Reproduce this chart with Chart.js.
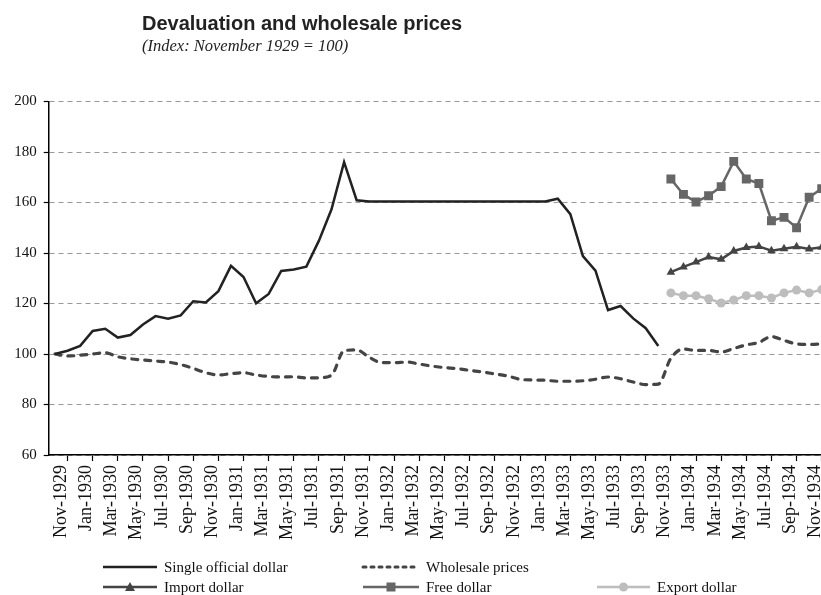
<!DOCTYPE html>
<html>
<head>
<meta charset="utf-8">
<script src="https://cdn.jsdelivr.net/npm/chart.js@4.4.1/dist/chart.umd.min.js"></script>
<style>
  html, body { margin: 0; padding: 0; background: #fff; overflow: hidden; width: 821px; height: 595px; }
  #wrap { position: relative; width: 836px; height: 595px; }
  #title { position: absolute; left: 142px; top: 12px; font: bold 20px "Liberation Sans", Arial, sans-serif; color: #222; white-space: nowrap; }
  #subtitle { position: absolute; left: 142px; top: 36px; font: italic 16.5px "Liberation Serif", "Times New Roman", serif; color: #222; white-space: nowrap; }
  canvas { position: absolute; left: 0; top: 0; }
</style>
</head>
<body>
<div id="wrap">
  <canvas id="c" width="836" height="595"></canvas>
  <div id="title">Devaluation and wholesale prices</div>
  <div id="subtitle">(Index: November 1929 = 100)</div>
</div>
<script>
const categories = [
  "Nov-1929","Dec-1929","Jan-1930","Feb-1930","Mar-1930","Apr-1930","May-1930","Jun-1930","Jul-1930","Aug-1930","Sep-1930","Oct-1930",
  "Nov-1930","Dec-1930","Jan-1931","Feb-1931","Mar-1931","Apr-1931","May-1931","Jun-1931","Jul-1931","Aug-1931","Sep-1931","Oct-1931",
  "Nov-1931","Dec-1931","Jan-1932","Feb-1932","Mar-1932","Apr-1932","May-1932","Jun-1932","Jul-1932","Aug-1932","Sep-1932","Oct-1932",
  "Nov-1932","Dec-1932","Jan-1933","Feb-1933","Mar-1933","Apr-1933","May-1933","Jun-1933","Jul-1933","Aug-1933","Sep-1933","Oct-1933",
  "Nov-1933","Dec-1933","Jan-1934","Feb-1934","Mar-1934","Apr-1934","May-1934","Jun-1934","Jul-1934","Aug-1934","Sep-1934","Oct-1934",
  "Nov-1934","Dec-1934"
];

const singleOfficialDollar = [
  100, 101.3, 103.2, 109.1, 110, 106.5, 107.5, 111.7, 115, 114, 115.3, 120.9,
  120.4, 124.9, 134.9, 130.5, 120.1, 123.8, 132.9, 133.5, 134.6, 144.9, 157.3, 176,
  160.9, 160.4, 160.4, 160.4, 160.4, 160.4, 160.4, 160.4, 160.4, 160.4, 160.4, 160.4,
  160.4, 160.4, 160.4, 160.4, 161.5, 155.4, 138.8, 133, 117.4, 119, 114.1, 110.2,
  103.2, null, null, null, null, null, null, null, null, null, null, null,
  null, null
];

const wholesalePrices = [
  100, 99.2, 99.5, 100, 100.5, 98.9, 98.1, 97.6, 97.2, 96.8, 95.8, 94.3,
  92.6, 91.7, 92.2, 92.6, 91.7, 91.1, 90.9, 91, 90.5, 90.6, 91.6, 101.3,
  101.6, 98.7, 96.6, 96.6, 96.8, 96, 95.2, 94.6, 94.2, 93.5, 92.9, 92.1,
  91.3, 90, 89.7, 89.6, 89.2, 89.2, 89.4, 90, 90.9, 90.2, 88.9, 87.9,
  88.1, 98.3, 102, 101.4, 101.4, 100.8, 102.2, 103.6, 104.6, 106.9, 105.4, 104,
  103.8, 104
];

const pad = new Array(49).fill(null);
const importDollar = pad.concat([132.4, 134.5, 136.4, 138.4, 137.5, 140.8, 142.2, 142.6, 140.9, 141.7, 142.5, 141.6, 142.3]);
const freeDollar   = pad.concat([169.3, 163.2, 160.2, 162.7, 166.3, 176.3, 169.3, 167.5, 152.8, 154.1, 150, 162.1, 165.5]);
const exportDollar = pad.concat([124.2, 123.1, 123.1, 121.9, 120.2, 121.4, 123.1, 123.1, 122.2, 124.2, 125.3, 124.2, 125.5]);

const yTicks = [60, 80, 100, 120, 140, 160, 180, 200];

const SERIF = '"Liberation Serif", "Times New Roman", serif';

const legendItems = [
  { text: "Single official dollar", x: 103, y: 567, w: 54, color: "#222", width: 2.5, dash: [], marker: null },
  { text: "Wholesale prices", x: 363, y: 567, w: 56, color: "#444", width: 3, dash: [3, 5], marker: null },
  { text: "Import dollar", x: 103, y: 587, w: 54, color: "#444", width: 2.5, dash: [], marker: "triangle" },
  { text: "Free dollar", x: 363, y: 587, w: 56, color: "#666", width: 2.5, dash: [], marker: "rect" },
  { text: "Export dollar", x: 597, y: 587, w: 53, color: "#bdbdbd", width: 2.5, dash: [], marker: "circle" }
];

const legendPlugin = {
  id: 'customLegend',
  afterDraw(chart) {
    const ctx = chart.ctx;
    ctx.save();
    legendItems.forEach(it => {
      ctx.strokeStyle = it.color;
      ctx.lineWidth = it.width;
      ctx.setLineDash(it.dash);
      ctx.lineCap = it.dash.length ? 'round' : 'butt';
      ctx.beginPath();
      ctx.moveTo(it.x, it.y);
      ctx.lineTo(it.x + it.w, it.y);
      ctx.stroke();
      ctx.setLineDash([]);
      const cx = it.x + it.w / 2;
      ctx.fillStyle = it.color;
      if (it.marker === 'triangle') {
        ctx.beginPath();
        ctx.moveTo(cx, it.y - 5); ctx.lineTo(cx + 5, it.y + 4); ctx.lineTo(cx - 5, it.y + 4);
        ctx.closePath(); ctx.fill();
      } else if (it.marker === 'rect') {
        ctx.fillRect(cx - 4.5, it.y - 4.5, 9, 9);
      } else if (it.marker === 'circle') {
        ctx.beginPath(); ctx.arc(cx, it.y, 4.5, 0, Math.PI * 2); ctx.fill();
      }
      ctx.fillStyle = '#111';
      ctx.font = '15px ' + SERIF;
      ctx.textBaseline = 'middle';
      ctx.textAlign = 'left';
      ctx.fillText(it.text, it.x + it.w + 7, it.y + 1);
    });
    ctx.restore();
  }
};

new Chart(document.getElementById('c'), {
  type: 'line',
  data: {
    labels: categories,
    datasets: [
      { label: 'Single official dollar', data: singleOfficialDollar, borderColor: '#222', borderWidth: 2.5, pointRadius: 0, tension: 0, spanGaps: false },
      { label: 'Wholesale prices', data: wholesalePrices, borderColor: '#444', borderWidth: 3.2, borderDash: [6, 7], borderCapStyle: 'round', pointRadius: 0, cubicInterpolationMode: 'monotone' },
      { label: 'Import dollar', data: importDollar, borderColor: '#444', backgroundColor: '#444', borderWidth: 2.5, pointStyle: 'triangle', pointRadius: 5, pointBorderWidth: 0, tension: 0 },
      { label: 'Free dollar', data: freeDollar, borderColor: '#666', backgroundColor: '#666', borderWidth: 2.5, pointStyle: 'rect', pointRadius: 6.3, pointBorderWidth: 0, tension: 0 },
      { label: 'Export dollar', data: exportDollar, borderColor: '#bdbdbd', backgroundColor: '#bdbdbd', borderWidth: 2.5, pointStyle: 'circle', pointRadius: 4.5, pointBorderWidth: 0, tension: 0 }
    ]
  },
  options: {
    responsive: false,
    animation: false,
    events: [],
    layout: { padding: { top: 101.5, right: 8, left: 0, bottom: 0 } },
    plugins: { legend: { display: false }, tooltip: { enabled: false }, title: { display: false } },
    scales: {
      x: {
        type: 'category',
        offset: true,
        afterFit(scale) { scale.height = 140; },
        grid: { offset: true, drawOnChartArea: false, drawTicks: true, tickLength: 6, tickColor: '#000', tickWidth: 1.2 },
        border: { display: true, color: '#000', width: 1.5 },
        ticks: {
          autoSkip: false, maxRotation: 90, minRotation: 90, padding: 4, labelOffset: 6.3,
          color: '#111', font: { family: SERIF, size: 18 },
          callback(val, idx) { return idx % 2 === 0 ? categories[idx] : null; }
        }
      },
      y: {
        min: 60, max: 200,
        afterFit(scale) { scale.width = 48.7; },
        afterBuildTicks(scale) { scale.ticks = yTicks.map(v => ({ value: v })); },
        grid: { color: '#999', lineWidth: 1, drawTicks: true, tickLength: 5, tickColor: '#000', tickBorderDash: [], tickWidth: 1.2 },
        border: { display: true, color: '#000', width: 1.5, dash: [5, 4] },
        ticks: { color: '#111', padding: 7, font: { family: SERIF, size: 15 } }
      }
    }
  },
  plugins: [legendPlugin]
});
</script>
</body>
</html>
